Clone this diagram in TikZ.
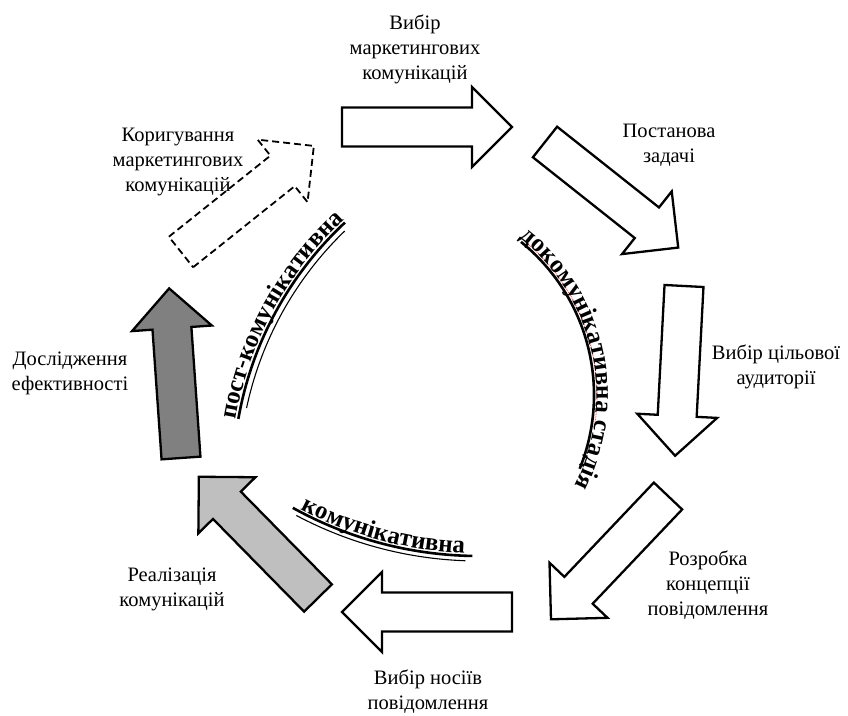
\documentclass[tikz,border=0pt]{standalone}
\usepackage{fontspec}
\setmainfont{Liberation Serif}
\usetikzlibrary{decorations.text}
\tikzset{
  barrow/.pic={\path[pic actions] (0,-19.5) -- (130,-19.5) -- (130,-40) -- (170,0) -- (130,40) -- (130,19.5) -- (0,19.5) -- cycle;},
  blk/.style={draw, line width=2.3pt, line join=miter, fill=white},
  lbl/.style={align=center, font=\fontsize{20.5}{25}\selectfont, inner sep=0pt},
  arcline/.style={line width=2.6pt},
  arcthin/.style={line width=1.1pt},
  arctext/.style={decorate, decoration={text along path, text align=center, raise=#1, text={|\bfseries\fontsize{25}{30}\selectfont|\arctxt}}}
}
\newcommand\arctxt{}
\begin{document}
\begin{tikzpicture}[x=1pt,y=1pt]
\useasboundingbox (0,0) rectangle (848,715);
% block arrows
\pic[blk] at (342,588) {barrow};
\pic[blk, dashed, dash pattern=on 7pt off 4pt, line width=1.8pt, rotate=38.6] at (181,463) {barrow};
\pic[blk, rotate=-38.4] at (545,573) {barrow};
\pic[blk, rotate=-93] at (684,429) {barrow};
\pic[blk, rotate=-133.5] at (668,219) {barrow};
\pic[blk, rotate=180] at (512,103) {barrow};
\pic[blk, fill={rgb,255:red,191;green,191;blue,191}, rotate=134.5] at (318,117) {barrow};
\pic[blk, fill={rgb,255:red,128;green,128;blue,128}, rotate=94] at (181,257) {barrow};
% arc A (post-communicative)
\coordinate (cA) at (585,235);
\draw[arcline] (cA) ++(170:352) arc[start angle=170, end angle=133, radius=352];
\draw[arcthin] (cA) ++(168:346) arc[start angle=168, end angle=134, radius=346];
\renewcommand\arctxt{пост-комунікативна}
\path[arctext=2.5pt] (cA) ++(173:352) arc[start angle=173, end angle=130, radius=352];
% arc B (pre-communicative stage)
\coordinate (cB) at (397,320);
\draw[arcline] (cB) ++(51:197) arc[start angle=51, end angle=-22, radius=197];
\draw[red, densely dotted, line width=0.7pt] (cB) ++(50:200) arc[start angle=50, end angle=-10, radius=200];
\renewcommand\arctxt{докомунікативна стадія}
\path[arctext=2.5pt] (cB) ++(54:197) arc[start angle=54, end angle=-29, radius=197];
% arc C (communicative)
\coordinate (cC) at (479,543);
\draw[arcline] (cC) ++(241:384) arc[start angle=241, end angle=269, radius=384];
\draw[arcthin] (cC) ++(242:389) arc[start angle=242, end angle=268, radius=389];
\renewcommand\arctxt{комунікативна}
\path[arctext=2.5pt] (cC) ++(239:384) arc[start angle=239, end angle=271, radius=384];
% labels
\node[lbl] (l1) at (415,666) {Вибір\\маркетингових\\комунікацій};
\node[lbl] (l2) at (669,570) {Постанова\\задачі};
\node[lbl] (l3) at (776,348) {Вибір цільової\\аудиторії};
\node[lbl] (l4) at (708,130) {Розробка\\концепції\\повідомлення};
\node[lbl] (l5) at (428,23) {Вибір носіїв\\повідомлення};
\node[lbl] (l6) at (172,126) {Реалізація\\комунікацій};
\node[lbl] (l7) at (70,342) {Дослідження\\ефективності};
\node[lbl] (l8) at (178,553) {Коригування\\маркетингових\\комунікацій};
\end{tikzpicture}
\end{document}
